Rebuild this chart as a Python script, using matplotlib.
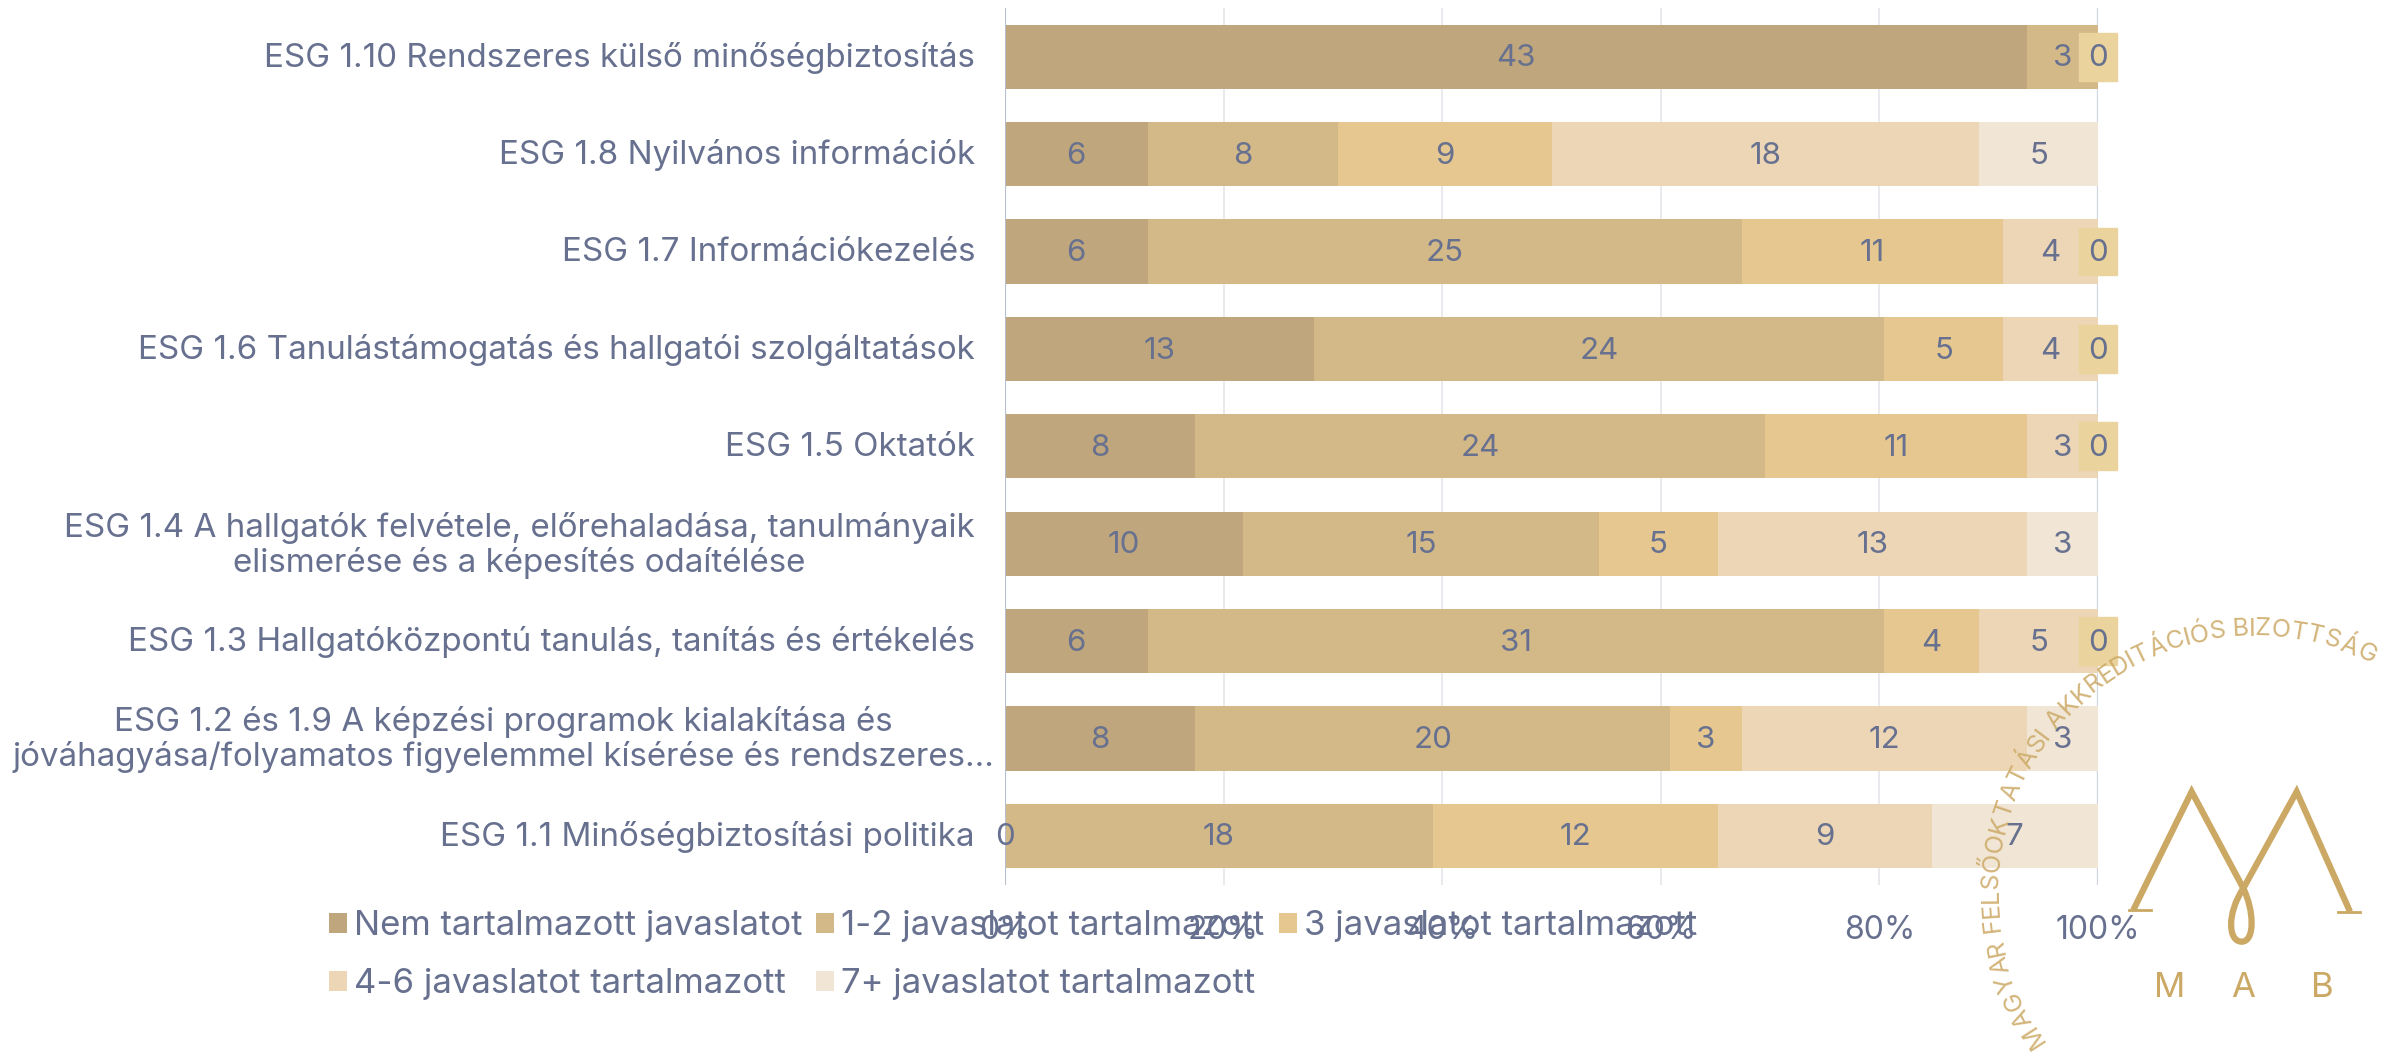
import numpy as np
import matplotlib
matplotlib.use('Agg')
import matplotlib.pyplot as plt
from matplotlib.patches import PathPatch, Rectangle
from matplotlib.path import Path
from matplotlib.textpath import TextPath
from matplotlib.font_manager import FontProperties

# Data
categories = [
    'ESG 1.10 Rendszeres külső minőségbiztosítás',
    'ESG 1.8 Nyilvános információk',
    'ESG 1.7 Információkezelés',
    'ESG 1.6 Tanulástámogatás és hallgatói szolgáltatások',
    'ESG 1.5 Oktatók',
    'ESG 1.4 A hallgatók felvétele, előrehaladása, tanulmányaik\nelismerése és a képesítés odaítélése',
    'ESG 1.3 Hallgatóközpontú tanulás, tanítás és értékelés',
    'ESG 1.2 és 1.9 A képzési programok kialakítása és\njóváhagyása/folyamatos figyelemmel kísérése és rendszeres...',
    'ESG 1.1 Minőségbiztosítási politika',
]
series_names = ['Nem tartalmazott javaslatot', '1-2 javaslatot tartalmazott',
                '3 javaslatot tartalmazott', '4-6 javaslatot tartalmazott',
                '7+ javaslatot tartalmazott']
no_recommendation = [43, 6, 6, 13, 8, 10, 6, 8, 0]
one_two = [3, 8, 25, 24, 24, 15, 31, 20, 18]
three = [0, 9, 11, 5, 11, 5, 4, 3, 12]
four_six = [0, 18, 4, 4, 3, 13, 5, 12, 9]
seven_plus = [0, 5, 0, 0, 0, 3, 0, 3, 7]
series = [no_recommendation, one_two, three, four_six, seven_plus]
colors = ['#BFA67C', '#D4B988', '#E5C78F', '#ECD6B6', '#F1E5D5']
x_ticks = [0, 20, 40, 60, 80, 100]

FONT = 'Inter'
TEXT = '#67718F'
GOLD = '#CBA863'
plt.rcParams['font.family'] = [FONT, 'DejaVu Sans']
plt.rcParams['font.size'] = 23.9

W, H = 2397, 1058
fig = plt.figure(figsize=(W / 100, H / 100), dpi=100)
ax = fig.add_axes([1005 / W, 1 - 884.5 / H, 1093 / W, 876.5 / H])

counts = np.array(series, dtype=float)
shares = counts / counts.sum(axis=0) * 100
y = np.arange(len(categories))
left = np.zeros(len(categories))
for i, name in enumerate(series_names):
    bars = ax.barh(y, shares[i], left=left, height=0.66, color=colors[i], label=name, zorder=2)
    # several empty segments stack on one spot: label only the last one
    labels = []
    for j, v in enumerate(series[i]):
        later_zero = i + 1 < len(series) and v == 0 and series[i + 1][j] == 0
        labels.append('' if later_zero else str(v))
        if v == 0 and not later_zero and left[j] > 0:
            ax.add_patch(Rectangle((left[j] - 1.75, y[j] - 0.245), 3.5, 0.49, color='#EBD39E',
                                   clip_on=False, zorder=3))
    for t in ax.bar_label(bars, labels=labels, label_type='center', color=TEXT, fontsize=22.5):
        t.set_zorder(5)
        t.xyann = (0, -1.2)
    left += shares[i]

ax.set_xlim(0, 100)
ax.set_ylim(len(categories) - 0.5, -0.5)
ax.set_xticks(x_ticks)
ax.set_xticklabels([f'{t}%' for t in x_ticks], color=TEXT, fontsize=23)
ax.tick_params(axis='x', length=0, pad=22)
ax.set_yticks(y)
ax.set_yticklabels([])
ax.tick_params(axis='y', length=0)
for spine in ax.spines.values():
    spine.set_visible(False)
ax.grid(axis='x', color='#7C84A0', alpha=0.2, linewidth=1.2, zorder=3)
ax.axvline(0, color='#B9BECD', linewidth=1.5, zorder=3)
ax.axvline(100, color='#E3E6EE', linewidth=2.5, zorder=1)
ax.patch.set_alpha(0)

# category labels, the long truncated one sticks out further right
for j, cat in enumerate(categories):
    shift = -11 if 'rendszeres...' in cat else -30
    ax.annotate(cat, xy=(0, y[j]), xytext=(shift * 0.72, -1), textcoords='offset points',
                ha='right', va='center', multialignment='center', color=TEXT,
                linespacing=1.12, annotation_clip=False)

handles, names = ax.get_legend_handles_labels()
order = [0, 3, 1, 4, 2]
ax.legend([handles[k] for k in order], [names[k] for k in order], ncol=3,
          loc='upper left', bbox_to_anchor=(329 / W, 1 - 910 / H), bbox_transform=fig.transFigure,
          frameon=False, labelcolor=TEXT, fontsize=25, handlelength=0.52, handleheight=0.52,
          handletextpad=0.2, columnspacing=0.4, labelspacing=0.75, borderpad=0, borderaxespad=0)

# MAB logo drawn on a pixel-sized overlay
over = fig.add_axes([0, 0, 1, 1], zorder=10)
over.set_xlim(0, W)
over.set_ylim(H, 0)
over.axis('off')


def zx(v):
    return 1900 + v / 3


def zy(v):
    return 560 + v / 3


verts = [(700, 1050), (875, 695), (1030, 985), (1062, 1050), (1066, 1145), (1025, 1145),
         (984, 1145), (980, 1060), (1030, 985), (1190, 695), (1350, 1055)]
codes = [Path.MOVETO, Path.LINETO, Path.LINETO, Path.CURVE4, Path.CURVE4, Path.CURVE4,
         Path.CURVE4, Path.CURVE4, Path.CURVE4, Path.LINETO, Path.LINETO]
over.add_patch(PathPatch(Path([(zx(a), zy(b)) for a, b in verts], codes), fill=False,
                         edgecolor=GOLD, linewidth=4.5, joinstyle='miter'))
for a, b, c in [(688, 752, 1051), (1315, 1380, 1055)]:
    over.plot([zx(a), zx(b)], [zy(c), zy(c)], color=GOLD, linewidth=2)
for letter, a in zip('MAB', [808, 1030, 1268]):
    over.text(zx(a), zy(1285), letter, color=GOLD, fontsize=25, ha='center', va='center')

# curved caption, one rotated character at a time
arc_text = 'MAGYAR FELSŐOKTATÁSI AKKREDITÁCIÓS BIZOTTSÁG'
cx, cy, radius = 2255, 893, 264
start, end = np.radians(215), np.radians(63)
arc_size = 18
fp = FontProperties(family=FONT, size=arc_size)
advances = [TextPath((0, 0), c, prop=fp).get_extents().width + arc_size * 0.12 if c != ' ' else arc_size * 0.3
            for c in arc_text]
edges = np.cumsum([0] + advances)
middles = (edges[:-1] + edges[1:]) / 2 / edges[-1]
for c, frac in zip(arc_text, middles):
    ang = start + (end - start) * frac
    over.text(cx + radius * np.cos(ang), cy - radius * np.sin(ang), c, color=GOLD, alpha=0.85,
              fontsize=arc_size, rotation=np.degrees(ang) - 90, rotation_mode='anchor',
              ha='center', va='center')

fig.savefig('out.png', dpi=100)
